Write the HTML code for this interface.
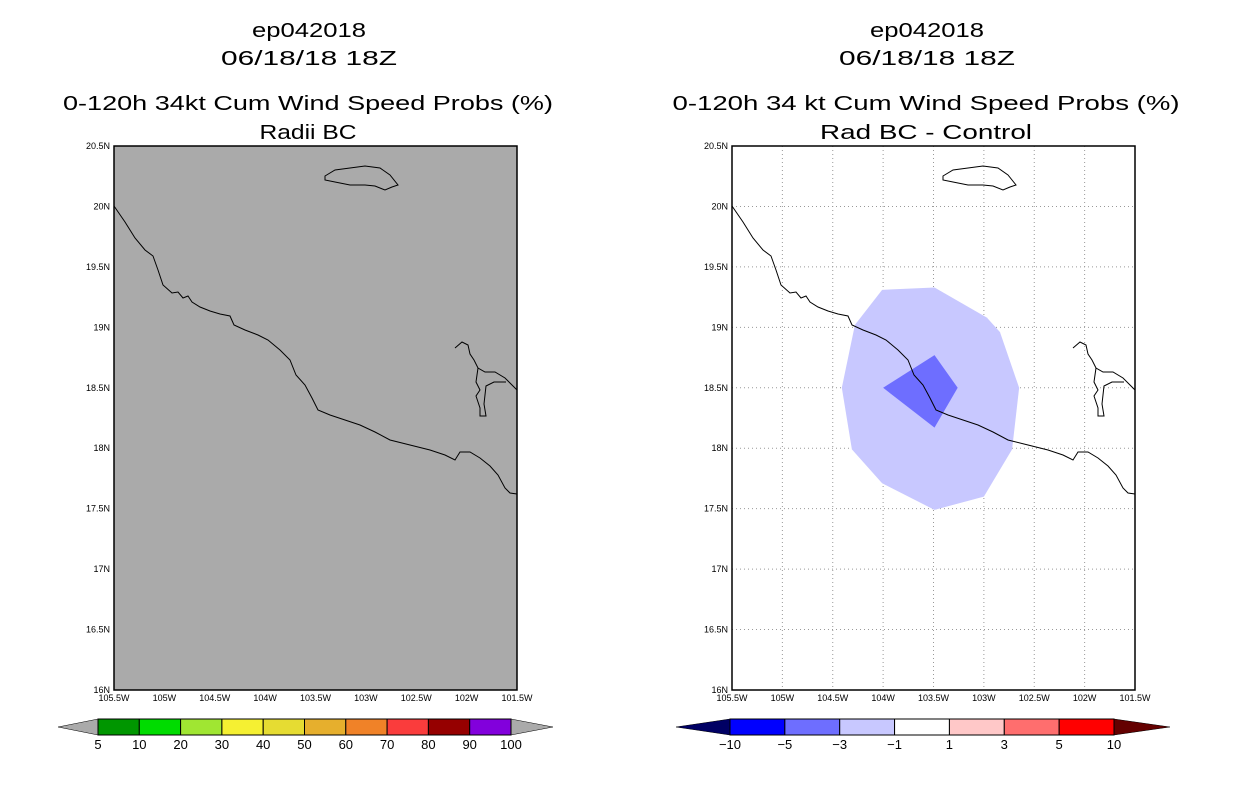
<!DOCTYPE html>
<html><head><meta charset="utf-8"><style>
body{margin:0;background:#fff;width:1236px;height:800px;overflow:hidden}
svg text{font-family:"Liberation Sans",sans-serif}
</style></head><body>
<svg id="s" width="1236" height="800" xmlns="http://www.w3.org/2000/svg">
<g font-size="20" text-anchor="middle" fill="#000">
<text x="309" y="37" textLength="114" lengthAdjust="spacingAndGlyphs">ep042018</text>
<text x="309" y="65" textLength="176" lengthAdjust="spacingAndGlyphs">06/18/18 18Z</text>
<text x="308" y="110" textLength="490" lengthAdjust="spacingAndGlyphs">0-120h 34kt Cum Wind Speed Probs (%)</text>
<text x="308" y="139" textLength="97" lengthAdjust="spacingAndGlyphs">Radii BC</text></g>
<g font-size="20" text-anchor="middle" fill="#000">
<text x="927" y="37" textLength="114" lengthAdjust="spacingAndGlyphs">ep042018</text>
<text x="927" y="65" textLength="176" lengthAdjust="spacingAndGlyphs">06/18/18 18Z</text>
<text x="926" y="110" textLength="507" lengthAdjust="spacingAndGlyphs">0-120h 34 kt Cum Wind Speed Probs (%)</text>
<text x="926" y="139" textLength="212" lengthAdjust="spacingAndGlyphs">Rad BC - Control</text></g>
<rect x="114" y="146" width="403" height="544" fill="#aaaaaa"/>
<g id="lg"></g>
<g id="rg"></g>
<g id="cb"></g>
</svg>
<script>
const lonTicks=[-105.5,-105,-104.5,-104,-103.5,-103,-102.5,-102,-101.5];
const latTicks=[16,16.5,17,17.5,18,18.5,19,19.5,20,20.5];
const lightLon=[-104.28,-104.01,-103.49,-102.97,-102.84,-102.65,-102.72,-103.0,-103.49,-104.01,-104.31,-104.41];
const lightLat=[19.02,19.31,19.33,19.08,18.96,18.5,17.99,17.6,17.49,17.71,17.99,18.5];
const darkLon=[-104.0,-103.49,-103.26,-103.49];
const darkLat=[18.5,18.77,18.5,18.17];
const leftLevels=["5","10","20","30","40","50","60","70","80","90","100"];
const leftColors=["#009600","#00dc00","#a0e632","#f5f032","#e6dc32","#e6af2d","#f08228","#fa3c3c","#960000","#8200dc"];
const rightLevels=["−10","−5","−3","−1","1","3","5","10"];
const rightColors=["#0000ff","#6e6eff","#c8c8ff","#ffffff","#ffc8c8","#ff6e6e","#ff0000"];
const NS="http://www.w3.org/2000/svg";
function mk(p,t,a){const e=document.createElementNS(NS,t);for(const k in a)e.setAttribute(k,a[k]);p.appendChild(e);return e;}
const W=403,H=544,Y0=146;
function sx(x0,lon){return x0+(lon+105.5)/4*W;}
function sy(lat){return Y0+(20.5-lat)/4.5*H;}
const coast=[[0,60],[11,76],[21,92],[31,104],[39,110],[44,124],[49,139],[58,147],[64,146],[69,152],[74,150],[78,156],[86,161],[96,165],[106,168],[116,170],[120,179],[131,184],[144,189],[154,194],[166,204],[176,214],[182,229],[191,239],[198,252],[204,264],[216,269],[231,274],[246,279],[261,286],[276,294],[296,299],[316,304],[331,309],[341,314],[346,306],[356,306],[366,312],[376,320],[384,329],[391,342],[396,347],[403,348]];
const island=[[211,30],[221,24],[236,22],[251,20],[266,22],[276,29],[284,39],[278,41],[271,44],[261,40],[251,39],[236,39],[221,36],[211,34]];
const lagoon=[[341,202],[348,196],[354,199],[356,208],[360,214],[364,222],[371,226],[381,226],[391,232],[399,240],[403,244]];
const lagoon2=[[364,222],[362,236],[366,244],[362,250],[366,262],[366,270],[372,270],[370,258],[372,240],[380,236],[392,236]];
function pts(a,x0){return a.map(p=>(x0+p[0])+","+(Y0+p[1])).join(" ");}
function drawMap(g,x0,grid){
 if(grid){
  lonTicks.slice(1,-1).forEach(l=>{const e=mk(g,"line",{x1:sx(x0,l),x2:sx(x0,l),y1:Y0,y2:Y0+H,stroke:"#999","stroke-dasharray":"1,3"});});
  latTicks.slice(1,-1).forEach(l=>{const e=mk(g,"line",{x1:x0,x2:x0+W,y1:sy(l),y2:sy(l),stroke:"#999","stroke-dasharray":"1,3"});});
  const lp=mk(g,"polygon",{points:lightLon.map((l,i)=>sx(x0,l)+","+sy(lightLat[i])).join(" "),fill:"#c8c8ff"});
  
  
  const dp=mk(g,"polygon",{points:darkLon.map((l,i)=>sx(x0,l)+","+sy(darkLat[i])).join(" "),fill:"#6e6eff"});
  
  
 }
 [coast,lagoon,lagoon2].forEach(a=>{const e=mk(g,"polyline",{points:pts(a,x0),fill:"none",stroke:"#000","stroke-width":1});});
 const is=mk(g,"polygon",{points:pts(island,x0),fill:"none",stroke:"#000"});
 
 
 const fr=mk(g,"rect",{x:x0,y:Y0,width:W,height:H,fill:"none",stroke:"#000","stroke-width":1.5});
 
 
 lonTicks.forEach(l=>{const t=mk(g,"text",{x:sx(x0,l),y:Y0+H+11,"font-size":9,"text-anchor":"middle"});t.textContent=Math.abs(l)+"W";});
 latTicks.forEach(l=>{const t=mk(g,"text",{x:x0-4,y:sy(l)+3,"font-size":9,"text-anchor":"end"});t.textContent=l+"N";});
}
drawMap(document.getElementById("lg"),114,false);
drawMap(document.getElementById("rg"),732,true);
function bar(g,x0,x1,tl,tr,cols,labs,lc,rc){
 const y=719,h=16,n=cols.length,bw=(x1-x0)/n;
 const a=mk(g,"polygon",{points:`${tl},${y+h/2} ${x0},${y} ${x0},${y+h}`,fill:lc,stroke:"#000","stroke-width":0.5});
 
 const b=mk(g,"polygon",{points:`${tr},${y+h/2} ${x1},${y} ${x1},${y+h}`,fill:rc,stroke:"#000","stroke-width":0.5});
 
 cols.forEach((c,i)=>{const r=mk(g,"rect",{x:x0+i*bw,y:y,width:bw,height:h,fill:c,stroke:"#000","stroke-width":1});});
 labs.forEach((s,i)=>{const t=mk(g,"text",{x:x0+i*bw,y:y+h+14,"font-size":13,"text-anchor":"middle"});t.textContent=s;});
}
const cb=document.getElementById("cb");
bar(cb,98,511,58,553,leftColors,leftLevels,"#aaaaaa","#aaaaaa");
bar(cb,730,1114,676,1170,rightColors,rightLevels,"#000064","#640000");
</script>
</body></html>
